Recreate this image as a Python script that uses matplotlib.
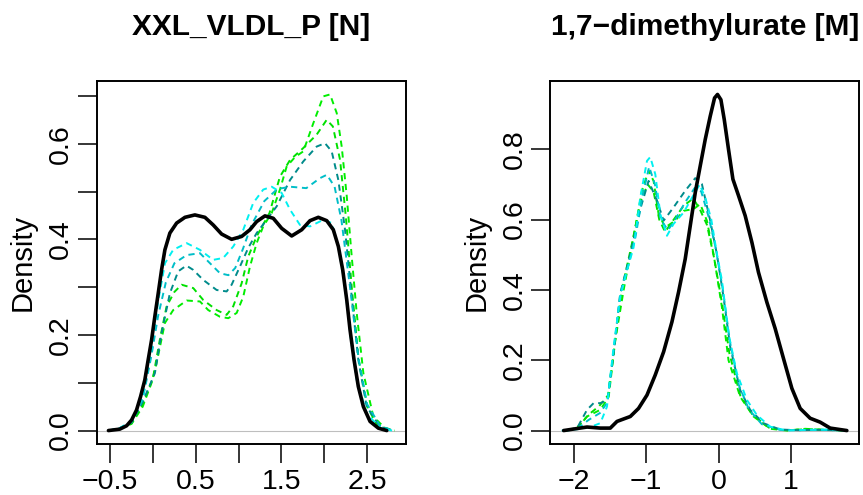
import matplotlib
matplotlib.use('Agg')
import matplotlib.pyplot as plt

plt.rcParams['font.family'] = ['Liberation Sans', 'DejaVu Sans']

# --- left panel: XXL_VLDL_P [N] ---
vldl_title = 'XXL_VLDL_P [N]'
vldl_xticks = [-0.5, 0.0, 0.5, 1.0, 1.5, 2.0, 2.5]
vldl_xlabels = ['\u22120.5', '', '0.5', '', '1.5', '', '2.5']
vldl_yticks = [0.0, 0.1, 0.2, 0.3, 0.4, 0.5, 0.6, 0.7]
vldl_ylabels = ['0.0', '', '0.2', '', '0.4', '', '0.6', '']

vldl_obs_x = [-0.52, -0.387, -0.308, -0.25, -0.192, -0.145, -0.095, -0.056, -0.016, 0.022,
              0.061, 0.1, 0.139, 0.197, 0.276, 0.373, 0.489, 0.606, 0.703, 0.801,
              0.918, 1.035, 1.132, 1.21, 1.307, 1.404, 1.502, 1.619, 1.736, 1.833,
              1.93, 2.028, 2.105, 2.164, 2.215, 2.262, 2.3, 2.347, 2.397, 2.456,
              2.534, 2.631, 2.729]
vldl_obs_y = [0.0, 0.003, 0.01, 0.022, 0.043, 0.071, 0.106, 0.148, 0.19, 0.239,
              0.287, 0.336, 0.378, 0.413, 0.434, 0.446, 0.451, 0.446, 0.43, 0.411,
              0.4, 0.406, 0.42, 0.437, 0.449, 0.444, 0.423, 0.407, 0.42, 0.439,
              0.446, 0.439, 0.42, 0.385, 0.336, 0.273, 0.211, 0.148, 0.092, 0.05,
              0.019, 0.005, 0.0]

vldl_sim = [
    ('#00EE00',
     [-0.52, -0.4, -0.25, -0.12, -0.016, 0.042, 0.139, 0.236, 0.393, 0.548, 0.645, 0.782,
      0.879, 0.977, 1.054, 1.132, 1.21, 1.287, 1.386, 1.482, 1.56, 1.658, 1.755, 1.872,
      1.988, 2.067, 2.145, 2.203, 2.262, 2.32, 2.378, 2.456, 2.573, 2.709, 2.82],
     [0.0, 0.003, 0.014, 0.05, 0.1, 0.141, 0.225, 0.252, 0.272, 0.27, 0.252, 0.238,
      0.235, 0.246, 0.28, 0.343, 0.392, 0.427, 0.455, 0.504, 0.552, 0.572, 0.584, 0.643,
      0.699, 0.703, 0.664, 0.594, 0.49, 0.364, 0.246, 0.12, 0.029, 0.005, 0.0]),
    ('#00E000',
     [-0.52, -0.4, -0.25, -0.12, 0.0, 0.08, 0.159, 0.25, 0.334, 0.47, 0.587, 0.743,
      0.86, 0.937, 1.035, 1.112, 1.21, 1.36, 1.482, 1.6, 1.755, 1.911, 2.028, 2.10,
      2.184, 2.25, 2.32, 2.4, 2.5, 2.62, 2.82],
     [0.0, 0.003, 0.015, 0.055, 0.11, 0.19, 0.26, 0.29, 0.305, 0.298, 0.273, 0.252,
      0.242, 0.26, 0.308, 0.364, 0.406, 0.455, 0.531, 0.566, 0.591, 0.619, 0.65, 0.636,
      0.566, 0.45, 0.3, 0.15, 0.05, 0.01, 0.0]),
    ('#008B8B',
     [-0.52, -0.4, -0.25, -0.12, 0.022, 0.1, 0.197, 0.294, 0.39, 0.47, 0.587, 0.743,
      0.86, 0.918, 1.015, 1.112, 1.21, 1.444, 1.6, 1.755, 1.911, 2.008, 2.086, 2.164,
      2.242, 2.32, 2.397, 2.495, 2.651, 2.8],
     [0.0, 0.004, 0.017, 0.06, 0.12, 0.204, 0.287, 0.333, 0.345, 0.336, 0.315, 0.294,
      0.291, 0.305, 0.343, 0.382, 0.413, 0.469, 0.524, 0.563, 0.594, 0.601, 0.584, 0.524,
      0.42, 0.28, 0.148, 0.05, 0.008, 0.0]),
    ('#00BEC8',
     [-0.52, -0.4, -0.25, -0.12, -0.02, 0.06, 0.15, 0.25, 0.393, 0.548, 0.665, 0.782,
      0.88, 0.96, 1.05, 1.15, 1.3, 1.45, 1.6, 1.79, 1.95, 2.03, 2.12, 2.2, 2.3, 2.4,
      2.5, 2.65, 2.8],
     [0.0, 0.004, 0.018, 0.065, 0.155, 0.24, 0.31, 0.35, 0.367, 0.371, 0.35, 0.329,
      0.325, 0.34, 0.38, 0.43, 0.48, 0.505, 0.51, 0.507, 0.528, 0.535, 0.51, 0.44, 0.30,
      0.15, 0.055, 0.01, 0.0]),
    ('#00F0F0',
     [-0.52, -0.4, -0.25, -0.12, -0.02, 0.06, 0.14, 0.236, 0.393, 0.548, 0.703, 0.82,
      0.937, 1.054, 1.17, 1.287, 1.386, 1.502, 1.6, 1.716, 1.833, 1.99, 2.086, 2.164,
      2.242, 2.30, 2.378, 2.495, 2.651, 2.79],
     [0.0, 0.004, 0.02, 0.07, 0.17, 0.27, 0.35, 0.378, 0.392, 0.378, 0.357, 0.361,
      0.385, 0.42, 0.476, 0.504, 0.51, 0.497, 0.462, 0.43, 0.427, 0.441, 0.434, 0.385,
      0.301, 0.204, 0.106, 0.036, 0.005, 0.0]),
]

# --- right panel: 1,7-dimethylurate [M] ---
urate_title = '1,7\u2212dimethylurate [M]'
urate_xticks = [-2, -1, 0, 1]
urate_xlabels = ['\u22122', '\u22121', '0', '1']
urate_yticks = [0.0, 0.2, 0.4, 0.6, 0.8]
urate_ylabels = ['0.0', '0.2', '0.4', '0.6', '0.8']

urate_obs_x = [-2.144, -1.95, -1.82, -1.636, -1.498, -1.405, -1.221, -1.107, -0.99, -0.876,
               -0.76, -0.645, -0.553, -0.461, -0.391, -0.322, -0.253, -0.184, -0.115, -0.055,
               -0.014, 0.033, 0.079, 0.138, 0.199, 0.277, 0.369, 0.462, 0.553, 0.669,
               0.784, 0.899, 1.015, 1.13, 1.268, 1.406, 1.545, 1.776]
urate_obs_y = [0.0, 0.006, 0.01, 0.007, 0.007, 0.026, 0.04, 0.063, 0.101, 0.158,
               0.224, 0.309, 0.394, 0.488, 0.583, 0.677, 0.753, 0.828, 0.894, 0.946,
               0.956, 0.941, 0.885, 0.8, 0.715, 0.668, 0.611, 0.535, 0.45, 0.365,
               0.29, 0.205, 0.12, 0.063, 0.035, 0.024, 0.007, 0.0]

urate_sim = [
    ('#00EE00',
     [-2.1, -1.95, -1.82, -1.636, -1.52, -1.429, -1.314, -1.176, -1.06, -0.968, -0.899,
      -0.83, -0.737, -0.599, -0.484, -0.346, -0.253, -0.161, -0.069, 0.047, 0.138, 0.3,
      0.484, 0.715, 0.95, 1.2, 1.45, 1.78],
     [0.0, 0.01, 0.04, 0.059, 0.096, 0.257, 0.399, 0.55, 0.682, 0.739, 0.71,
      0.616, 0.578, 0.597, 0.625, 0.63, 0.644, 0.597, 0.502, 0.351, 0.2, 0.096,
      0.04, 0.005, 0.0, 0.005, 0.002, 0.0]),
    ('#00E000',
     [-2.12, -1.95, -1.8, -1.65, -1.53, -1.44, -1.34, -1.2, -1.08, -0.98, -0.9, -0.82,
      -0.74, -0.62, -0.48, -0.35, -0.26, -0.16, -0.06, 0.05, 0.15, 0.3, 0.47, 0.7, 0.95,
      1.25, 1.5, 1.78],
     [0.0, 0.008, 0.045, 0.07, 0.1, 0.24, 0.4, 0.53, 0.65, 0.70, 0.68, 0.6,
      0.565, 0.6, 0.64, 0.66, 0.63, 0.585, 0.49, 0.36, 0.22, 0.1, 0.045, 0.008, 0.001,
      0.004, 0.002, 0.0]),
    ('#008B8B',
     [-2.08, -1.95, -1.82, -1.729, -1.636, -1.535, -1.452, -1.36, -1.221, -1.083, -0.968,
      -0.852, -0.76, -0.622, -0.461, -0.322, -0.23, -0.115, -0.023, 0.069, 0.162, 0.3,
      0.438, 0.622, 0.85, 1.1, 1.4, 1.78],
     [0.0, 0.01, 0.059, 0.078, 0.078, 0.087, 0.22, 0.39, 0.502, 0.63, 0.71,
      0.654, 0.597, 0.635, 0.682, 0.718, 0.701, 0.597, 0.502, 0.38, 0.238, 0.115,
      0.059, 0.021, 0.003, 0.001, 0.002, 0.0]),
    ('#00BEC8',
     [-2.1, -1.95, -1.8, -1.64, -1.54, -1.45, -1.36, -1.25, -1.15, -1.05, -0.96, -0.88,
      -0.8, -0.7, -0.6, -0.46, -0.33, -0.24, -0.14, -0.04, 0.06, 0.16, 0.28, 0.42, 0.6,
      0.85, 1.1, 1.4, 1.78],
     [0.0, 0.006, 0.03, 0.05, 0.08, 0.23, 0.39, 0.47, 0.55, 0.67, 0.75, 0.70,
      0.6, 0.57, 0.6, 0.65, 0.69, 0.68, 0.61, 0.52, 0.4, 0.25, 0.13, 0.06, 0.018,
      0.002, 0.001, 0.002, 0.0]),
    ('#00F0F0',
     [-2.17, -1.95, -1.75, -1.636, -1.544, -1.452, -1.36, -1.267, -1.176, -1.083, -0.99,
      -0.945, -0.875, -0.806, -0.714, -0.622, -0.484, -0.346, -0.26, -0.18, -0.1, -0.02,
      0.047, 0.138, 0.254, 0.393, 0.531, 0.715, 0.946, 1.2, 1.5, 1.79],
     [0.0, 0.004, 0.012, 0.021, 0.068, 0.238, 0.38, 0.455, 0.521, 0.663, 0.767,
      0.778, 0.729, 0.616, 0.554, 0.588, 0.62, 0.67, 0.70, 0.66, 0.6, 0.5,
      0.427, 0.276, 0.163, 0.087, 0.044, 0.011, 0.0, 0.002, 0.003, 0.0]),
]


def density_panel(ax, title, obs_x, obs_y, sims, xticks, xlabels, yticks, ylabels):
    for col, xs, ys in sims:
        ax.plot(xs, ys, color=col, lw=1.4, linestyle=(0, (3.2, 2.4)))
    ax.plot(obs_x, obs_y, color='black', lw=2.6,
            solid_joinstyle='round', solid_capstyle='round')
    ax.axhline(0, color='#BEBEBE', lw=0.8, zorder=0)

    # R-style 4% padding around the data range
    ax.margins(x=0.04, y=0.04)

    ax.set_xticks(xticks)
    ax.set_xticklabels(xlabels)
    ax.set_yticks(yticks)
    ax.set_yticklabels(ylabels, rotation=90, va='center')
    ax.tick_params(length=13.5, width=1.1, labelsize=20.5)
    ax.tick_params(axis='x', pad=4.5)
    ax.tick_params(axis='y', pad=3)

    for sp in ax.spines.values():
        sp.set_linewidth(1.4)

    ax.set_ylabel('Density', fontsize=21)
    ax.yaxis.set_label_coords(-0.194, 0.5)
    ax.text(0.5, 1.126, title, transform=ax.transAxes, ha='center',
            va='baseline', fontsize=21.5, fontweight='bold')


fig = plt.figure(figsize=(8.63, 4.95), dpi=100)
ax1 = fig.add_axes([97 / 863, 51 / 495, 309 / 863, 363 / 495])
ax2 = fig.add_axes([550.3 / 863, 51 / 495, 309 / 863, 363 / 495])

density_panel(ax1, vldl_title, vldl_obs_x, vldl_obs_y, vldl_sim,
              vldl_xticks, vldl_xlabels, vldl_yticks, vldl_ylabels)
density_panel(ax2, urate_title, urate_obs_x, urate_obs_y, urate_sim,
              urate_xticks, urate_xlabels, urate_yticks, urate_ylabels)

fig.savefig('out.png', dpi=100)
